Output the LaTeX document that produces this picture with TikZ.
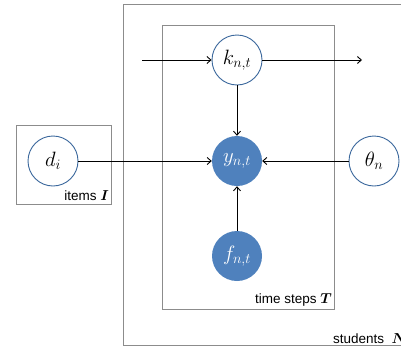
\documentclass[tikz,border=0pt]{standalone}
\usepackage{amsmath}
\usepackage{bm}
\usepackage{fontspec}
\setsansfont{Liberation Sans}
\usetikzlibrary{arrows.meta}
\definecolor{nodeblue}{HTML}{4F81BD}
\definecolor{rimblue}{HTML}{3A679C}
\definecolor{plategray}{HTML}{8C8C8C}
\begin{document}
\begin{tikzpicture}[x=1pt,y=-1pt]
\tikzset{latent/.style = {shape=circle,draw=rimblue,line width=0.9pt,fill=white,minimum size=50pt,inner sep=0pt,font=\fontsize{21}{23}\selectfont}}
\tikzset{observed/.style = {shape=circle,fill=nodeblue,text=white,minimum size=50pt,inner sep=0pt,font=\fontsize{21}{23}\selectfont}}
\tikzset{plate/.style = {draw=plategray,line width=1pt}}
\tikzset{platelabel/.style = {font=\sffamily\fontsize{13.5}{15}\selectfont,inner sep=1pt}}
\tikzset{edge/.style = {-{Straight Barb[length=4pt,width=7pt]},line width=0.9pt}}
\useasboundingbox (0,0) rectangle (401,351);
% plates
\draw[plate] (123,4) rectangle (420,345);
\draw[plate] (162,25) rectangle (334,309);
\draw[plate] (16,125) rectangle (111,204);
\node[platelabel,anchor=south west] (studlab) at (332,345) {students\ \ $\bm{N}$};
\node[platelabel,anchor=south east] (timelab) at (333,307) {time steps $\bm{T}$};
\node[platelabel,anchor=south east] (itemlab) at (110,202) {items $\bm{I}$};
% variables
\node[latent] (k) at (237,60) {$k_{n,t}$};
\node[observed] (y) at (237,161) {$y_{n,t}$};
\node[observed] (f) at (237,256) {$f_{n,t}$};
\node[latent] (d) at (53,161) {$d_i$};
\node[latent] (theta) at (374,161) {$\theta_n$};
% chain ends
\coordinate (kin) at (142,60);
\coordinate (kout) at (362,60);
% edges
\draw[edge] (kin) to (k);
\draw[edge] (k) to (kout);
\draw[edge] (k) to (y);
\draw[edge] (f) to (y);
\draw[edge] (d) to (y);
\draw[edge] (theta) to (y);
\end{tikzpicture}
\end{document}
